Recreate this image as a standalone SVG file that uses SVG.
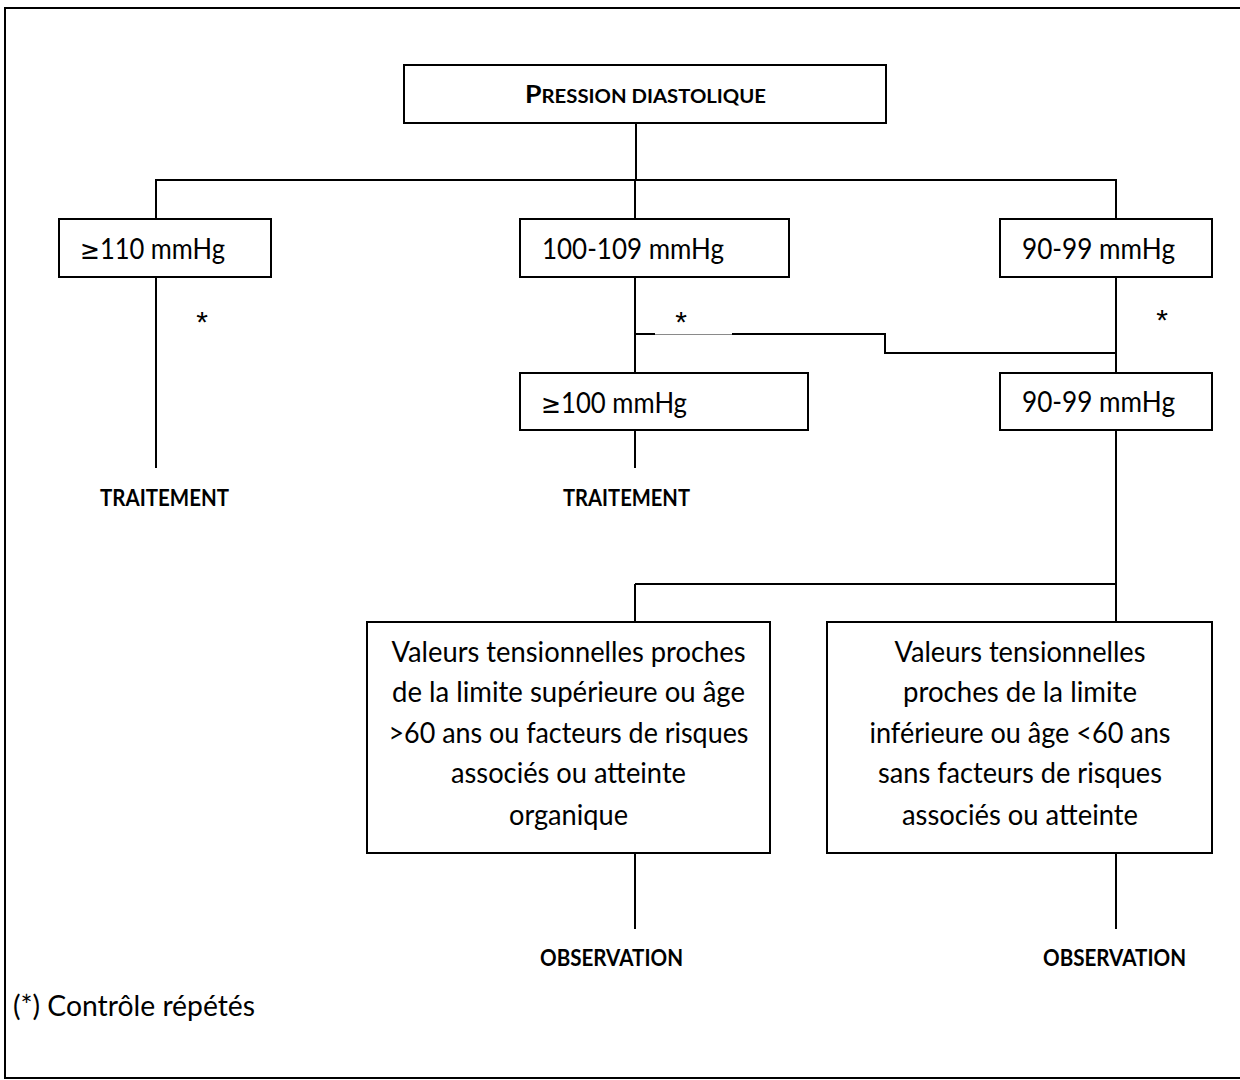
<svg xmlns="http://www.w3.org/2000/svg" width="1240" height="1080" viewBox="0 0 1240 1080">
  <style>
    .box { fill: #ffffff; stroke: #000000; stroke-width: 2; }
    .wire { fill: none; stroke: #000000; stroke-width: 2; }
    .thin { fill: none; stroke: #8a8a8a; stroke-width: 1; }
    text { font-family: "Lato", "Open Sans", "Liberation Sans", sans-serif; fill: #000000; }
    .body { font-size: 28px; }
    .mid { text-anchor: middle; }
    .bold { font-weight: bold; font-size: 22px; }
    .star { font-family: "Liberation Sans", Arial, sans-serif; font-size: 30px; text-anchor: middle; }
    .sym { font-family: "DejaVu Sans", sans-serif; font-size: 26px; }
  </style>

  <!-- page frame -->
  <rect x="5" y="8" width="1245" height="1070" fill="#ffffff" stroke="#000000" stroke-width="2"/>

  <!-- connectors -->
  <g id="connectors">
    <line class="wire" x1="636" y1="123" x2="636" y2="180"/>
    <line class="wire" x1="155" y1="180" x2="1117" y2="180"/>
    <line class="wire" x1="156" y1="180" x2="156" y2="219"/>
    <line class="wire" x1="635" y1="180" x2="635" y2="219"/>
    <line class="wire" x1="1116" y1="180" x2="1116" y2="219"/>
    <line class="wire" x1="156" y1="277" x2="156" y2="468"/>
    <line class="wire" x1="635" y1="277" x2="635" y2="373"/>
    <line class="wire" x1="635" y1="430" x2="635" y2="468"/>
    <line class="wire" x1="635" y1="334" x2="655" y2="334"/>
    <line class="thin" x1="655" y1="334.5" x2="732" y2="334.5"/>
    <polyline class="wire" points="732,334 885,334 885,353 1116,353"/>
    <line class="wire" x1="1116" y1="277" x2="1116" y2="373"/>
    <line class="wire" x1="1116" y1="430" x2="1116" y2="622"/>
    <line class="wire" x1="635" y1="584" x2="1116" y2="584"/>
    <line class="wire" x1="635" y1="584" x2="635" y2="622"/>
    <line class="wire" x1="635" y1="853" x2="635" y2="929"/>
    <line class="wire" x1="1116" y1="853" x2="1116" y2="929"/>
    <text class="star" x="202" y="332">*</text>
    <text class="star" x="681" y="332">*</text>
    <text class="star" x="1162" y="330">*</text>
  </g>

  <!-- root -->
  <g id="pression-diastolique">
    <rect class="box" x="404" y="65" width="482" height="58"/>
    <text class="mid" x="645.5" y="103" font-weight="bold" textLength="241" lengthAdjust="spacingAndGlyphs"><tspan font-size="25">P</tspan><tspan font-size="19">RESSION DIASTOLIQUE</tspan></text>
  </g>

  <g id="pad-110">
    <rect class="box" x="59" y="219" width="212" height="58"/>
    <text class="body" x="80" y="259" textLength="145" lengthAdjust="spacingAndGlyphs"><tspan class="sym">≥</tspan>110 mmHg</text>
  </g>

  <g id="pad-100-109">
    <rect class="box" x="520" y="219" width="269" height="58"/>
    <text class="body" x="542" y="259" textLength="182" lengthAdjust="spacingAndGlyphs">100-109 mmHg</text>
  </g>

  <g id="pad-90-99">
    <rect class="box" x="1000" y="219" width="212" height="58"/>
    <text class="body" x="1022" y="259" textLength="153" lengthAdjust="spacingAndGlyphs">90-99 mmHg</text>
  </g>

  <g id="pad-100">
    <rect class="box" x="520" y="373" width="288" height="57"/>
    <text class="body" x="541" y="413" textLength="146" lengthAdjust="spacingAndGlyphs"><tspan class="sym">≥</tspan>100 mmHg</text>
  </g>

  <g id="pad-90-99-repeat">
    <rect class="box" x="1000" y="373" width="212" height="57"/>
    <text class="body" x="1022" y="412" textLength="153" lengthAdjust="spacingAndGlyphs">90-99 mmHg</text>
  </g>

  <g id="traitement-1">
    <text class="bold mid" x="164.5" y="506" textLength="129" lengthAdjust="spacingAndGlyphs">TRAITEMENT</text>
  </g>

  <g id="traitement-2">
    <text class="bold mid" x="626.5" y="506" textLength="127" lengthAdjust="spacingAndGlyphs">TRAITEMENT</text>
  </g>

  <g id="limite-superieure">
    <rect class="box" x="367" y="622" width="403" height="231"/>
    <text class="body mid" x="568.5" y="662" textLength="354" lengthAdjust="spacingAndGlyphs">Valeurs tensionnelles proches</text>
    <text class="body mid" x="568.5" y="702" textLength="353" lengthAdjust="spacingAndGlyphs">de la limite supérieure ou âge</text>
    <text class="body mid" x="568.5" y="743" textLength="360" lengthAdjust="spacingAndGlyphs">&gt;60 ans ou facteurs de risques</text>
    <text class="body mid" x="568.5" y="783" textLength="235" lengthAdjust="spacingAndGlyphs">associés ou atteinte</text>
    <text class="body mid" x="568.5" y="825" textLength="119" lengthAdjust="spacingAndGlyphs">organique</text>
  </g>

  <g id="limite-inferieure">
    <rect class="box" x="827" y="622" width="385" height="231"/>
    <text class="body mid" x="1020" y="662" textLength="251" lengthAdjust="spacingAndGlyphs">Valeurs tensionnelles</text>
    <text class="body mid" x="1020" y="702" textLength="234" lengthAdjust="spacingAndGlyphs">proches de la limite</text>
    <text class="body mid" x="1020" y="743" textLength="301" lengthAdjust="spacingAndGlyphs">inférieure ou âge &lt;60 ans</text>
    <text class="body mid" x="1020" y="783" textLength="284" lengthAdjust="spacingAndGlyphs">sans facteurs de risques</text>
    <text class="body mid" x="1020" y="825" textLength="236" lengthAdjust="spacingAndGlyphs">associés ou atteinte</text>
  </g>

  <g id="observation-1">
    <text class="bold mid" x="611.5" y="966" textLength="143" lengthAdjust="spacingAndGlyphs">OBSERVATION</text>
  </g>

  <g id="observation-2">
    <text class="bold mid" x="1114.5" y="966" textLength="143" lengthAdjust="spacingAndGlyphs">OBSERVATION</text>
  </g>

  <!-- footnote -->
  <text class="body" x="13" y="1016" textLength="242" lengthAdjust="spacingAndGlyphs">(*) Contrôle répétés</text>
</svg>
